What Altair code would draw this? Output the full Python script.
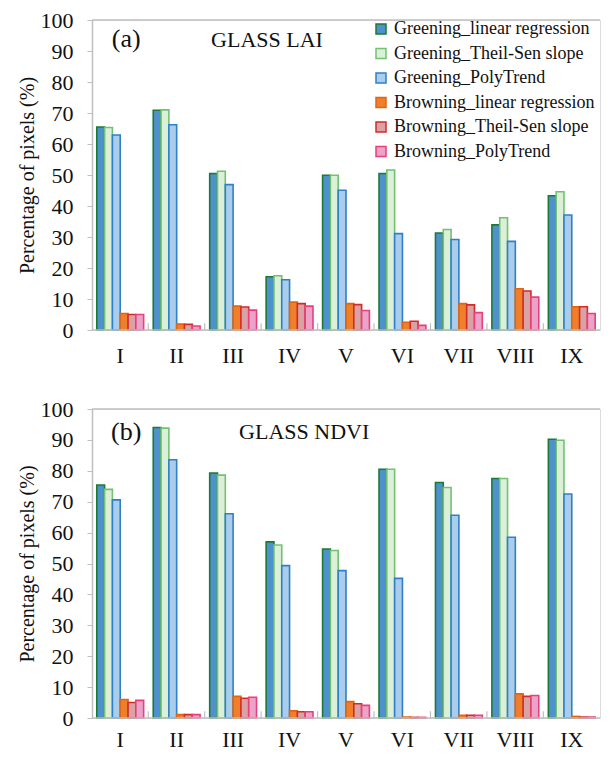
import altair as alt
import pandas as pd

regions = ["I", "II", "III", "IV", "V", "VI", "VII", "VIII", "IX"]
series = [
    "Greening_linear regression",
    "Greening_Theil-Sen slope",
    "Greening_PolyTrend",
    "Browning_linear regression",
    "Browning_Theil-Sen slope",
    "Browning_PolyTrend",
]

# (a) GLASS LAI
lai_g_lr = [65.5, 70.9, 50.5, 17.2, 49.9, 50.5, 31.3, 33.9, 43.3]
lai_g_ts = [65.3, 71.0, 51.2, 17.5, 49.9, 51.6, 32.4, 36.2, 44.6]
lai_g_pt = [62.9, 66.2, 46.9, 16.2, 45.1, 31.1, 29.2, 28.6, 37.1]
lai_b_lr = [5.3, 1.9, 7.7, 9.0, 8.5, 2.5, 8.5, 13.3, 7.5]
lai_b_ts = [5.0, 1.8, 7.4, 8.5, 8.2, 2.8, 8.1, 12.6, 7.5]
lai_b_pt = [5.0, 1.3, 6.4, 7.7, 6.3, 1.5, 5.6, 10.6, 5.3]

# (b) GLASS NDVI
ndvi_g_lr = [75.4, 94.0, 79.3, 57.0, 54.7, 80.5, 76.2, 77.5, 90.2]
ndvi_g_ts = [74.0, 93.8, 78.6, 56.0, 54.2, 80.5, 74.6, 77.5, 89.9]
ndvi_g_pt = [70.6, 83.6, 66.1, 49.3, 47.7, 45.2, 65.6, 58.5, 72.5]
ndvi_b_lr = [6.0, 1.1, 7.0, 2.3, 5.3, 0.3, 0.9, 7.8, 0.5]
ndvi_b_ts = [5.0, 1.1, 6.4, 2.0, 4.6, 0.2, 0.9, 7.0, 0.3]
ndvi_b_pt = [5.7, 1.1, 6.7, 2.0, 4.1, 0.2, 0.9, 7.3, 0.3]

fills = ["#4F91CD", "#DCEFD8", "#A9CDEA", "#F07F2C", "#D9A3A6", "#EBA3C9"]
strokes = ["#1B7A34", "#72C272", "#2F80C8", "#E2650F", "#D42A2A", "#E8407A"]

FONT = "Liberation Serif"
GRAY = "#BFBFBF"
W = 508


def make_df(cols):
    rows = []
    for s, vals in zip(series, cols):
        for r, v in zip(regions, vals):
            rows.append({"Region": r, "Series": s, "Value": v})
    return pd.DataFrame(rows)


Y_AXIS = alt.Axis(
    values=list(range(0, 101, 10)), title="Percentage of pixels (%)",
    titleFont=FONT, titleFontSize=20, titleFontWeight="normal",
    titleColor="#111111", titlePadding=3, labelOverlap=False,
    labelFont=FONT, labelFontSize=22, labelColor="#111111",
    labelPadding=14, tickSize=5, tickColor=GRAY, domainColor=GRAY,
    domainWidth=1.5, grid=False,
)
Y_SCALE = alt.Scale(domain=[0, 100], nice=False)


def panel(cols, tag, tag_y, name, name_dx, name_y, height, xpad, show_legend):
    df = make_df(cols)
    if show_legend:
        leg = alt.Legend(
            orient="none", legendX=280, legendY=0, title=None,
            symbolType="square", symbolSize=100, symbolStrokeWidth=1.5,
            labelFont=FONT, labelFontSize=18, labelColor="#111111",
            rowPadding=6.5, labelOffset=4, labelLimit=400, padding=0,
        )
    else:
        leg = None

    x_scale = alt.Scale(domain=regions, paddingInner=0.17, paddingOuter=0.085)
    x_axis = alt.Axis(
        title=None, ticks=False, domain=False, labelPadding=xpad,
        labelFontSize=22, labelFont=FONT, labelAngle=0,
        labelColor="#111111",
    )

    bars = alt.Chart(df).mark_bar(strokeWidth=1.6).encode(
        x=alt.X("Region:N", sort=regions, scale=x_scale, axis=x_axis),
        xOffset=alt.XOffset(
            "Series:N", sort=series,
            scale=alt.Scale(domain=series, paddingInner=0, paddingOuter=0),
        ),
        y=alt.Y("Value:Q", scale=Y_SCALE, axis=Y_AXIS),
        fill=alt.Fill("Series:N", sort=series,
                      scale=alt.Scale(domain=series, range=fills), legend=leg),
        stroke=alt.Stroke("Series:N", sort=series,
                          scale=alt.Scale(domain=series, range=strokes), legend=leg),
    )

    frame_df = pd.DataFrame({"Value": [0.0, 100.0]})
    frame = alt.Chart(frame_df).mark_rule(color=GRAY, strokeWidth=1.5).encode(
        y=alt.Y("Value:Q", scale=Y_SCALE, axis=Y_AXIS)
    )

    sep_df = pd.DataFrame({"Region": regions[1:], "Value": 0.0, "Top": 2.2})
    seps = alt.Chart(sep_df).mark_rule(color=GRAY, strokeWidth=1.2, xOffset=-5).encode(
        x=alt.X("Region:N", sort=regions, scale=x_scale, axis=x_axis, bandPosition=0),
        y=alt.Y("Value:Q", scale=Y_SCALE, axis=Y_AXIS),
        y2="Top:Q",
    )

    ann_df = pd.DataFrame({
        "Region": ["I", "III"],
        "Value": [tag_y, name_y],
        "Label": [tag, name],
    })
    tag_text = alt.Chart(ann_df.iloc[[0]]).mark_text(
        font=FONT, fontSize=26, align="center", baseline="middle", color="#111111", dx=6
    ).encode(
        x=alt.X("Region:N", sort=regions, scale=x_scale, axis=x_axis),
        y=alt.Y("Value:Q", scale=Y_SCALE, axis=Y_AXIS),
        text="Label:N",
    )
    name_text = alt.Chart(ann_df.iloc[[1]]).mark_text(
        font=FONT, fontSize=22, align="left", baseline="middle", color="#111111", dx=name_dx
    ).encode(
        x=alt.X("Region:N", sort=regions, scale=x_scale, axis=x_axis),
        y=alt.Y("Value:Q", scale=Y_SCALE, axis=Y_AXIS),
        text="Label:N",
    )

    return alt.layer(bars, frame, seps, tag_text, name_text).properties(
        width=W, height=height)


top = panel([lai_g_lr, lai_g_ts, lai_g_pt, lai_b_lr, lai_b_ts, lai_b_pt],
            "(a)", 94.0, "GLASS LAI", -22, 93.4, 310, 15, True)
bottom = panel([ndvi_g_lr, ndvi_g_ts, ndvi_g_pt, ndvi_b_lr, ndvi_b_ts, ndvi_b_pt],
               "(b)", 92.6, "GLASS NDVI", 6, 92.6, 309, 11, False)

chart = alt.vconcat(top, bottom, spacing=30).resolve_scale(
    fill="independent", stroke="independent"
).properties(
    padding={"left": 8, "top": 0, "right": 0, "bottom": 0}
).configure_view(stroke=None).configure(font=FONT)

chart.save("out.html", embed_options={"renderer": "svg", "actions": False})
